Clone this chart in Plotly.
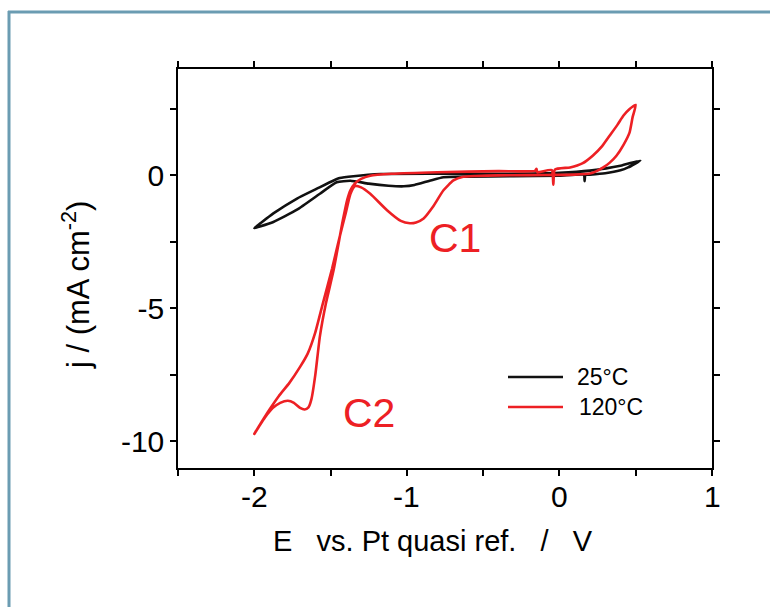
import plotly.graph_objects as go

# ---- data ----
E_25 = [0.53, 0.45, 0.40, 0.30, 0.20, 0.17, 0.165, 0.16, 0.0, -0.3, -0.6, -0.76, -0.85, -0.95, -1.02,
        -1.12, -1.25, -1.37, -1.46, -1.57, -1.72, -1.875, -1.97, -2.0,
        -1.96, -1.875, -1.72, -1.59, -1.48, -1.44, -1.35, -1.17, -0.8, -0.4, 0.0, 0.2, 0.40, 0.53]
j_25 = [0.56, 0.30, 0.19, 0.08, 0.03, 0.02, -0.22, 0.02, -0.01, -0.03, -0.05, -0.07, -0.20, -0.36, -0.41,
        -0.39, -0.31, -0.20, -0.26, -0.69, -1.29, -1.75, -1.93, -1.98,
        -1.80, -1.43, -0.87, -0.50, -0.19, -0.10, -0.03, 0.05, 0.06, 0.06, 0.10, 0.18, 0.36, 0.56]

E_120 = [0.50, 0.48, 0.46, 0.42, 0.375, 0.33, 0.29, 0.24, 0.20, 0.10, 0.0, -0.2, -0.4, -0.55, -0.63,
         -0.695, -0.76, -0.83, -0.89, -0.94, -0.98, -1.04, -1.13, -1.24, -1.30, -1.34,
         -1.37, -1.40, -1.44, -1.49, -1.55, -1.60, -1.65, -1.70, -1.77, -1.84, -1.90, -1.95, -2.0,
         -1.97, -1.93, -1.88, -1.83, -1.78, -1.74, -1.70, -1.67, -1.645, -1.625, -1.60, -1.57, -1.53,
         -1.48, -1.42, -1.39, -1.37, -1.34, -1.30, -1.24, -1.1, -0.8, -0.4, -0.16, -0.15, -0.145,
         -0.05, -0.04, -0.03, 0.07, 0.15, 0.22, 0.28, 0.33, 0.38, 0.42, 0.46, 0.50]
j_120 = [2.65, 2.2, 1.62, 1.15, 0.75, 0.48, 0.31, 0.15, 0.07, 0.03, 0.02, 0.01, 0.0, -0.02, -0.05,
         -0.19, -0.56, -1.19, -1.62, -1.77, -1.80, -1.71, -1.31, -0.69, -0.45, -0.40,
         -0.7, -1.4, -2.3, -3.5, -4.8, -5.9, -6.7, -7.2, -7.8, -8.3, -8.8, -9.25, -9.72,
         -9.45, -9.1, -8.75, -8.55, -8.47, -8.55, -8.74, -8.80, -8.72, -8.4, -7.5, -6.05, -4.8,
         -3.56, -1.7, -0.9, -0.56, -0.30, -0.13, -0.01, 0.06, 0.12, 0.16, 0.17, 0.25, 0.12,
         0.2, -0.35, 0.22, 0.30, 0.45, 0.75, 1.10, 1.50, 1.90, 2.25, 2.50, 2.65]

x_tickvals = [-2, -1, 0, 1]
x_ticktext = ["-2", "-1", "0", "1"]
x_minorvals = [-2.5, -1.5, -0.5, 0.5]
y_tickvals = [-10, -5, 0]
y_ticktext = ["-10", "-5", "0"]
y_minorvals = [-7.5, -2.5, 2.5]

series_names = ["25°C", "120°C"]
BLACK = "#111111"
RED = "#ed2024"

W, H = 770, 607
L, R, T, B = 178, 58, 69, 139
PW, PH = W - L - R, H - T - B
XR = [-2.5, 1]
YR = [-11, 4]

def px(x):
    return (x - L) / PW

def py(y):
    return (H - B - y) / PH

fig = go.Figure()
fig.add_trace(go.Scatter(x=E_25, y=j_25, mode="lines", name=series_names[0],
                         line=dict(color=BLACK, width=2.6, shape="spline", smoothing=0.5)))
fig.add_trace(go.Scatter(x=E_120, y=j_120, mode="lines", name=series_names[1],
                         line=dict(color=RED, width=2.6, shape="spline", smoothing=0.5)))

font_family = "Liberation Sans, Arial, sans-serif"
axis_common = dict(showline=True, linecolor="black", linewidth=1.5, mirror="ticks",
                   ticks="outside", ticklen=6, tickwidth=1.5, tickcolor="black",
                   showgrid=False, zeroline=False)

fig.update_layout(
    width=W, height=H,
    margin=dict(l=L, r=R, t=T, b=B),
    paper_bgcolor="white", plot_bgcolor="white",
    showlegend=False,
    xaxis=dict(range=XR, tickmode="array", tickvals=x_tickvals, showticklabels=False,
               minor=dict(tickmode="array", tickvals=x_minorvals, ticks="outside", ticklen=6,
                          tickwidth=1.5, tickcolor="black", showgrid=False),
               **axis_common),
    yaxis=dict(range=YR, tickmode="array", tickvals=y_tickvals, ticktext=y_ticktext,
               tickfont=dict(family=font_family, size=30, color="black"),
               minor=dict(tickmode="array", tickvals=y_minorvals, ticks="outside", ticklen=6,
                          tickwidth=1.5, tickcolor="black", showgrid=False),
               **axis_common),
)

ann = []
# x tick labels (placed just under the axis)
for v, t in zip(x_tickvals, x_ticktext):
    ann.append(dict(text=t, xref="x", yref="paper", x=v, y=py(496), xanchor="center", yanchor="middle",
                    showarrow=False, font=dict(family=font_family, size=30, color="black")))
# axis titles
ann.append(dict(text="E\u00a0\u00a0 vs. Pt quasi ref.\u00a0\u00a0 /\u00a0\u00a0 V", xref="paper", yref="paper",
                x=px(433), y=py(541), xanchor="center", yanchor="middle", showarrow=False,
                font=dict(family=font_family, size=29, color="black")))
ann.append(dict(text="j / (mA cm<sup>-2</sup>)", xref="paper", yref="paper",
                x=px(76), y=py(285), xanchor="center", yanchor="middle", textangle=-90, showarrow=False,
                font=dict(family=font_family, size=31, color="black")))
# peak labels
ann.append(dict(text="C1", xref="paper", yref="paper", x=px(455), y=py(238), xanchor="center",
                yanchor="middle", showarrow=False, font=dict(family=font_family, size=41, color=RED)))
ann.append(dict(text="C2", xref="paper", yref="paper", x=px(369), y=py(413), xanchor="center",
                yanchor="middle", showarrow=False, font=dict(family=font_family, size=41, color=RED)))
# legend text
ann.append(dict(text=series_names[0], xref="paper", yref="paper", x=px(575), y=py(377), xanchor="left",
                yanchor="middle", showarrow=False, font=dict(family=font_family, size=23, color="black")))
ann.append(dict(text=series_names[1], xref="paper", yref="paper", x=px(577), y=py(407), xanchor="left",
                yanchor="middle", showarrow=False, font=dict(family=font_family, size=23, color="black")))
fig.update_layout(annotations=ann)

shapes = []
# legend line samples
shapes.append(dict(type="line", xref="paper", yref="paper", x0=px(508), x1=px(563), y0=py(377), y1=py(377),
                   line=dict(color=BLACK, width=2.6)))
shapes.append(dict(type="line", xref="paper", yref="paper", x0=px(508), x1=px(563), y0=py(407), y1=py(407),
                   line=dict(color=RED, width=2.6)))
# outer frame (left and top edges)
shapes.append(dict(type="line", xref="paper", yref="paper", x0=px(9), x1=px(9), y0=py(11), y1=py(610),
                   line=dict(color="#6b9cb2", width=3)))
shapes.append(dict(type="line", xref="paper", yref="paper", x0=px(8), x1=px(775), y0=py(12), y1=py(12),
                   line=dict(color="#6b9cb2", width=3)))
fig.update_layout(shapes=shapes)

fig.write_html("out.html", config={"displayModeBar": False},
               post_script="document.body.style.margin='0';document.body.style.overflow='hidden';")
